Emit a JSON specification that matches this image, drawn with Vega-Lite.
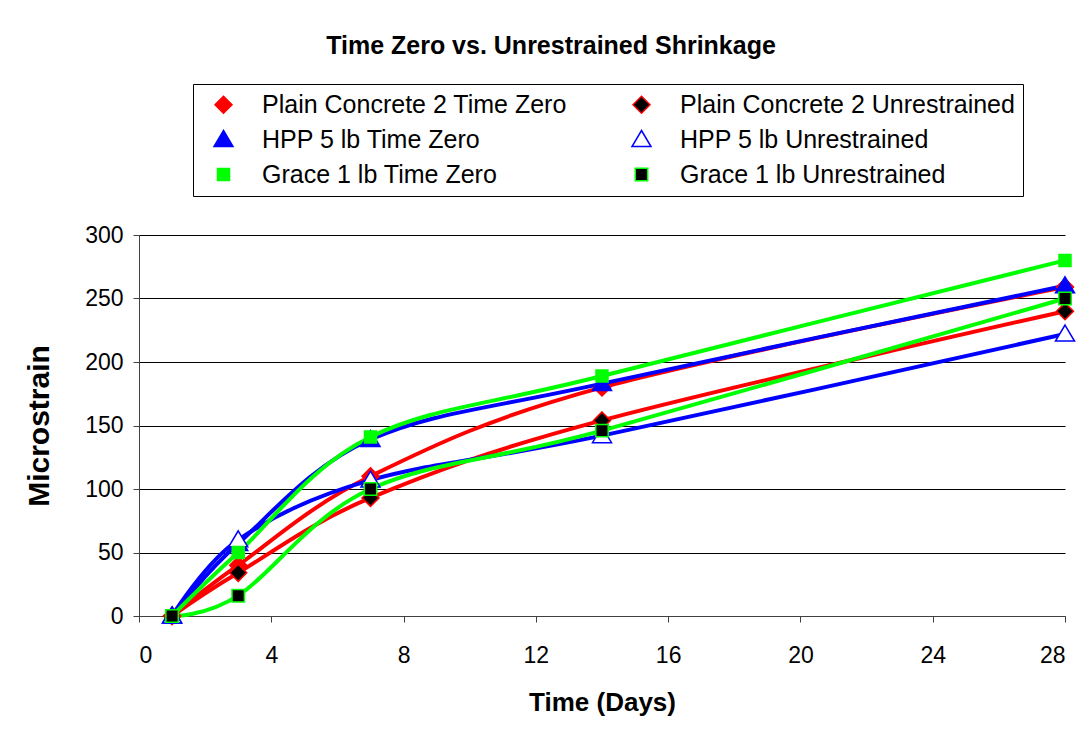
{
  "$schema": "https://vega.github.io/schema/vega-lite/v6.json",
  "width": 926,
  "height": 381,
  "autosize": {"type": "none"},
  "padding": {"left": 139, "top": 235, "right": 23, "bottom": 116},
  "background": "white",
  "title": {
    "text": "Time Zero vs. Unrestrained Shrinkage",
    "font": "Liberation Sans",
    "fontSize": 25,
    "fontWeight": "bold",
    "color": "black",
    "anchor": "middle",
    "frame": "group",
    "baseline": "alphabetic",
    "offset": 5,
    "dx": -51
  },
  "data": {
    "values": [
      {"day": 1, "series": "Plain Concrete 2 Time Zero", "value": 0},
      {"day": 3, "series": "Plain Concrete 2 Time Zero", "value": 40},
      {"day": 7, "series": "Plain Concrete 2 Time Zero", "value": 110},
      {"day": 14, "series": "Plain Concrete 2 Time Zero", "value": 180},
      {"day": 28, "series": "Plain Concrete 2 Time Zero", "value": 259},
      {"day": 1, "series": "Plain Concrete 2 Unrestrained", "value": 0},
      {"day": 3, "series": "Plain Concrete 2 Unrestrained", "value": 34},
      {"day": 7, "series": "Plain Concrete 2 Unrestrained", "value": 93},
      {"day": 14, "series": "Plain Concrete 2 Unrestrained", "value": 154},
      {"day": 28, "series": "Plain Concrete 2 Unrestrained", "value": 240},
      {"day": 1, "series": "HPP 5 lb Time Zero", "value": 0},
      {"day": 3, "series": "HPP 5 lb Time Zero", "value": 57},
      {"day": 7, "series": "HPP 5 lb Time Zero", "value": 139},
      {"day": 14, "series": "HPP 5 lb Time Zero", "value": 183},
      {"day": 28, "series": "HPP 5 lb Time Zero", "value": 260},
      {"day": 1, "series": "HPP 5 lb Unrestrained", "value": 0},
      {"day": 3, "series": "HPP 5 lb Unrestrained", "value": 60},
      {"day": 7, "series": "HPP 5 lb Unrestrained", "value": 107},
      {"day": 14, "series": "HPP 5 lb Unrestrained", "value": 142},
      {"day": 28, "series": "HPP 5 lb Unrestrained", "value": 222},
      {"day": 1, "series": "Grace 1 lb Time Zero", "value": 0},
      {"day": 3, "series": "Grace 1 lb Time Zero", "value": 50},
      {"day": 7, "series": "Grace 1 lb Time Zero", "value": 141},
      {"day": 14, "series": "Grace 1 lb Time Zero", "value": 189},
      {"day": 28, "series": "Grace 1 lb Time Zero", "value": 280},
      {"day": 1, "series": "Grace 1 lb Unrestrained", "value": 0},
      {"day": 3, "series": "Grace 1 lb Unrestrained", "value": 16},
      {"day": 7, "series": "Grace 1 lb Unrestrained", "value": 100},
      {"day": 14, "series": "Grace 1 lb Unrestrained", "value": 146},
      {"day": 28, "series": "Grace 1 lb Unrestrained", "value": 250}
    ]
  },
  "encoding": {
    "x": {
      "field": "day",
      "type": "quantitative",
      "title": "Time (Days)",
      "scale": {"domain": [0, 28], "nice": false},
      "axis": {
        "values": [0, 4, 8, 12, 16, 20, 24, 28],
        "grid": false,
        "tickSize": 6,
        "tickColor": "#404040",
        "domainColor": "#404040",
        "labelPadding": 22,
        "titlePadding": 22
      }
    },
    "y": {
      "field": "value",
      "type": "quantitative",
      "title": "Microstrain",
      "scale": {"domain": [0, 300], "nice": false},
      "axis": {
        "values": [0, 50, 100, 150, 200, 250, 300],
        "grid": true,
        "gridColor": "black",
        "gridOpacity": 1,
        "gridWidth": 1,
        "tickSize": 6,
        "tickColor": "#404040",
        "domainColor": "#404040",
        "labelPadding": 10,
        "titlePadding": 30
      }
    }
  },
  "layer": [
    {
      "mark": {"type": "line", "interpolate": "cardinal", "strokeWidth": 4},
      "encoding": {
        "stroke": {"field": "series", "type": "nominal",
          "scale": {
            "domain": ["Plain Concrete 2 Time Zero", "HPP 5 lb Time Zero", "Grace 1 lb Time Zero", "Plain Concrete 2 Unrestrained", "HPP 5 lb Unrestrained", "Grace 1 lb Unrestrained"],
            "range": ["#FF0000", "#0000FF", "#00FF00", "#FF0000", "#0000FF", "#00FF00"]
          }
        },
        "detail": {"field": "series"}
      }
    },
    {
      "mark": {"type": "point", "filled": false, "opacity": 1, "strokeWidth": 1.5, "size": 400},
      "encoding": {
        "stroke": {"field": "series", "type": "nominal",
          "legend": {
            "title": null,
            "orient": "none",
            "legendX": 54,
            "legendY": -151,
            "columns": 2,
            "columnPadding": 52,
            "rowPadding": 9,
            "padding": 8,
            "strokeColor": "black",
            "fillColor": "white",
            "labelFont": "Liberation Sans",
            "labelFontSize": 25,
            "labelColor": "black",
            "labelOffset": 26,
            "labelLimit": 500,
            "symbolSize": 400,
            "symbolOffset": 10,
            "symbolStrokeWidth": 1.5,
            "symbolOpacity": 1
          }
        },
        "fill": {"field": "series", "type": "nominal", "legend": null,
          "scale": {
            "domain": ["Plain Concrete 2 Time Zero", "HPP 5 lb Time Zero", "Grace 1 lb Time Zero", "Plain Concrete 2 Unrestrained", "HPP 5 lb Unrestrained", "Grace 1 lb Unrestrained"],
            "range": ["#FF0000", "#0000FF", "#00FF00", "#000000", "#FFFFFF", "#000000"]
          }
        },
        "shape": {"field": "series", "type": "nominal", "legend": null,
          "scale": {
            "domain": ["Plain Concrete 2 Time Zero", "HPP 5 lb Time Zero", "Grace 1 lb Time Zero", "Plain Concrete 2 Unrestrained", "HPP 5 lb Unrestrained", "Grace 1 lb Unrestrained"],
            "range": [
              "M0,-0.85L0.85,0L0,0.85L-0.85,0Z",
              "M0,-0.9L0.95,0.7L-0.95,0.7Z",
              "M-0.6,-0.6L0.6,-0.6L0.6,0.6L-0.6,0.6Z",
              "M0,-0.85L0.85,0L0,0.85L-0.85,0Z",
              "M0,-0.9L0.95,0.7L-0.95,0.7Z",
              "M-0.62,-0.62L0.62,-0.62L0.62,0.62L-0.62,0.62Z"
            ]
          }
        }
      }
    }
  ],
  "config": {
    "view": {"stroke": null},
    "axis": {
      "labelFont": "Liberation Sans",
      "labelFontSize": 23,
      "labelColor": "black",
      "titleFont": "Liberation Sans",
      "titleFontWeight": "bold",
      "titleFontSize": 26,
      "titleColor": "black"
    },
    "axisY": {"titleFontSize": 30}
  }
}
